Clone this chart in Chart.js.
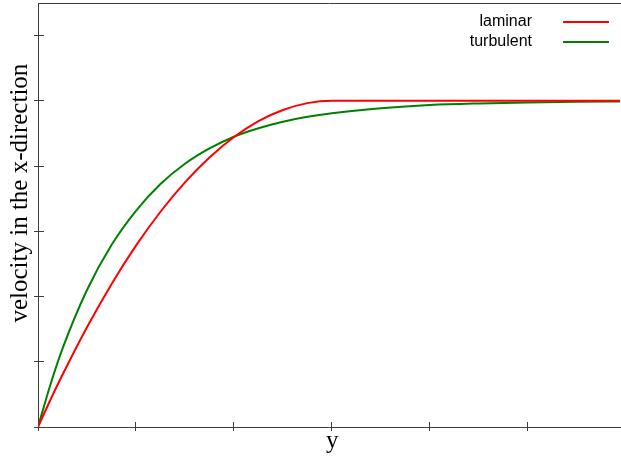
<!DOCTYPE html>
<html><head><meta charset="utf-8">
<script src="https://cdn.jsdelivr.net/npm/chart.js@4.4.0/dist/chart.umd.min.js"></script>
<style>
html,body{margin:0;padding:0;background:#fff;}
#wrap{position:relative;width:621px;height:458px;overflow:hidden;}
canvas{position:absolute;left:0;top:0;}
.lt{position:absolute;right:89px;text-align:right;line-height:20px;height:20px;font:16px "Liberation Sans", Arial, sans-serif;color:#000;white-space:nowrap;}
.ll{position:absolute;left:563px;width:46px;height:2px;}
</style></head><body>
<div id="wrap"><canvas id="c" width="621" height="458"></canvas><div id="legend"></div></div>
<script>
// y-coordinate across the boundary layer (x axis of the chart)
const xValues   = [0, 0.125, 0.25, 0.5, 0.75, 1.0, 1.25, 1.5, 1.75, 2.0, 2.25, 2.5, 2.75, 3.0, 3.5, 4.0, 4.5, 5.0, 5.5, 6.0];
// velocity
const laminar   = [0, 0.082, 0.160, 0.306, 0.438, 0.556, 0.660, 0.750, 0.826, 0.889, 0.938, 0.972, 0.993, 1.000, 1.000, 1.000, 1.000, 1.000, 1.000, 1.000];
const turbulent = [0, 0.128, 0.240, 0.420, 0.558, 0.663, 0.745, 0.807, 0.854, 0.890, 0.916, 0.936, 0.951, 0.962, 0.977, 0.987, 0.992, 0.995, 0.997, 0.998];
const seriesNames = ['laminar', 'turbulent'];
const xTicks = [0, 1, 2, 3, 4, 5];
const yTicks = [0, 0.2, 0.4, 0.6, 0.8, 1.0, 1.2];
const xTitle = 'y';
const yTitle = 'velocity in the x-direction';

const colors = ['#ff0000', '#008000'];
const axisColor = '#3c3c3c';
const serif = '"Liberation Serif", "Times New Roman", serif';

const leg = document.getElementById('legend');
seriesNames.forEach((name, i) => {
  const t = document.createElement('div');
  t.className = 'lt'; t.textContent = name; t.style.top = (12 + i * 20) + 'px';
  leg.appendChild(t);
  const l = document.createElement('div');
  l.className = 'll'; l.style.top = (21 + i * 20) + 'px'; l.style.background = colors[i];
  leg.appendChild(l);
});

const series = [laminar, turbulent];
new Chart(document.getElementById('c'), {
  type: 'line',
  data: {
    datasets: series.map((vals, i) => ({
      label: seriesNames[i],
      data: xValues.map((x, j) => ({x: x, y: vals[j]})),
      borderColor: colors[i],
      borderWidth: 2,
      pointRadius: 0,
      fill: false,
      cubicInterpolationMode: 'monotone'
    }))
  },
  options: {
    responsive: false,
    animation: false,
    devicePixelRatio: 1,
    layout: {padding: {left: 0, right: 1, top: 0, bottom: 0}},
    plugins: {legend: {display: false}, tooltip: {enabled: false}},
    scales: {
      x: {
        type: 'linear', position: 'bottom', min: 0, max: 5.94,
        afterFit(s) { s.height = 31; },
        afterBuildTicks(s) { s.ticks = xTicks.map(v => ({value: v})); },
        ticks: {display: false},
        grid: {display: true, drawOnChartArea: true, drawTicks: true, tickLength: 4, color: axisColor, tickColor: axisColor, lineWidth: 1},
        border: {display: true, color: axisColor, width: 1, dash: [0, 419, 5, 1000]},
        title: {display: true, text: ' ' + xTitle, color: '#000', font: {family: serif, size: 25}, padding: {top: 0, bottom: 2}}
      },
      xTop: {
        type: 'linear', position: 'top', min: 0, max: 5.94,
        afterFit(s) { s.height = 3; },
        afterBuildTicks(s) { s.ticks = []; },
        ticks: {display: false},
        grid: {display: false},
        border: {display: true, color: axisColor, width: 1}
      },
      y: {
        type: 'linear', position: 'left', min: 0, max: 1.3,
        afterFit(s) { s.width = 38; },
        afterBuildTicks(s) { s.ticks = yTicks.map(v => ({value: v})); },
        ticks: {display: false},
        grid: {display: true, drawOnChartArea: true, drawTicks: true, tickLength: 4, color: axisColor, tickColor: axisColor, lineWidth: 1},
        border: {display: true, color: axisColor, width: 1, dash: [5, 1000]},
        title: {display: true, text: '       ' + yTitle, color: '#000', font: {family: serif, size: 25}, padding: {top: 5, bottom: 0}}
      }
    }
  }
});
</script>
</body></html>
